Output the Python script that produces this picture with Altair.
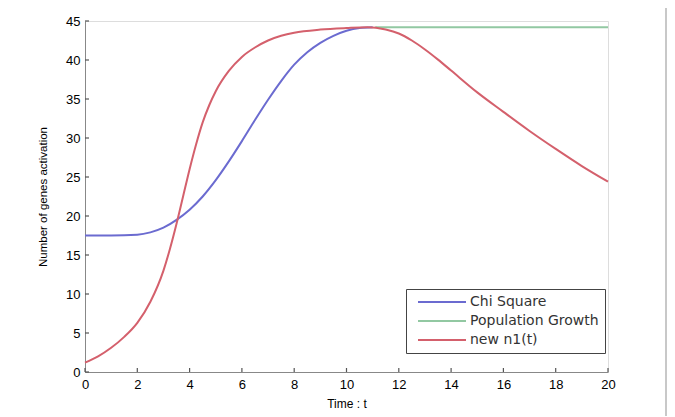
import altair as alt
import pandas as pd

series_names = ["Chi Square", "Population Growth", "new n1(t)"]
series_colors = ["#6b6bd0", "#92c8a2", "#d4606c"]

chi_t = [0, 1, 2, 2.5, 3, 3.5, 4, 4.5, 5, 5.5, 6, 6.5, 7, 7.5, 8, 8.5, 9, 9.5, 10, 10.5, 11]
chi_y = [17.5, 17.5, 17.6, 17.9, 18.5, 19.5, 20.8, 22.5, 24.6, 27.0, 29.6, 32.3, 34.9, 37.3, 39.4, 41.0,
         42.2, 43.1, 43.75, 44.1, 44.2]

pop_t = [11.1, 20]
pop_y = [44.2, 44.2]

n1_t = [0, 0.5, 1, 1.5, 2, 2.5, 3, 3.25, 3.5, 3.75, 4, 4.25, 4.5, 4.75, 5, 5.5, 6, 6.5, 7, 7.5, 8, 9, 10, 10.8,
        11.5, 12, 12.5, 13, 13.5, 14, 15, 16, 17, 18, 19, 20]
n1_y = [1.2, 2.0, 3.1, 4.5, 6.3, 9.0, 13.0, 15.8, 19.0, 22.5, 26.0, 29.2, 32.0, 34.2, 36.0, 38.6, 40.4, 41.6,
        42.5, 43.1, 43.5, 43.9, 44.1, 44.2, 43.9, 43.4, 42.5, 41.35, 40.05, 38.65, 35.85, 33.35, 30.9, 28.6,
        26.4, 24.4]

x_ticks = list(range(0, 21, 2))
y_ticks = list(range(0, 46, 5))

rows = []
for name, ts, ys in [(series_names[0], chi_t, chi_y), (series_names[1], pop_t, pop_y), (series_names[2], n1_t, n1_y)]:
    for i, (t, y) in enumerate(zip(ts, ys)):
        rows.append({"t": t, "y": y, "series": name, "order": i})
df = pd.DataFrame(rows)

W, H = 523, 351
FONT = "DejaVu Sans"
xscale = alt.Scale(domain=[0, 20], nice=False, zero=False)
yscale = alt.Scale(domain=[0, 45], nice=False)

x_axis = alt.Axis(values=x_ticks, ticks=False, labelPadding=6, titlePadding=7,
                  labelFontSize=13, titleFontSize=12, titleFontWeight="normal",
                  grid=False, labelFlush=False, labelOverlap=False)
y_axis = alt.Axis(values=y_ticks, ticks=False, labelPadding=5, titlePadding=17,
                  labelFontSize=13, titleFontSize=11.5, titleFontWeight="normal",
                  grid=False, labelFlush=False, labelOverlap=False)
x_title = "Time : t"
y_title = "Number of genes activation"

lines = alt.Chart(df).mark_line(strokeWidth=2, interpolate="monotone").encode(
    x=alt.X("t:Q", scale=xscale, title=x_title, axis=x_axis),
    y=alt.Y("y:Q", scale=yscale, title=y_title, axis=y_axis),
    color=alt.Color("series:N", scale=alt.Scale(domain=series_names, range=series_colors),
                    legend=alt.Legend(title=None, orient="none", legendX=321, legendY=268,
                                      fillColor="white", strokeColor="#444", padding=6,
                                      symbolType="M-4.8,0L4.8,0", symbolSize=100, symbolStrokeWidth=2,
                                      symbolOffset=23, labelOffset=21, rowPadding=5,
                                      labelFontSize=14, labelFont=FONT, labelColor="#333")),
    order="order:Q",
)

xt = alt.Chart(pd.DataFrame({"t": x_ticks})).mark_rule(color="#555", strokeWidth=1.2).encode(
    x=alt.X("t:Q", scale=xscale, title=x_title, axis=x_axis), y=alt.value(H), y2=alt.value(H - 4))
yt = alt.Chart(pd.DataFrame({"y": y_ticks})).mark_rule(color="#555", strokeWidth=1.2).encode(
    y=alt.Y("y:Q", scale=yscale, title=y_title, axis=y_axis), x=alt.value(0), x2=alt.value(4))

frame = alt.Chart(pd.DataFrame({"a": [0]})).mark_rule(color="#c8c8c8", strokeWidth=2, clip=False).encode(
    x=alt.value(581), y=alt.value(-16), y2=alt.value(400))

chart = alt.layer(lines, xt, yt, frame).properties(
    width=W, height=H,
    autosize=alt.AutoSizeParams(type="none"),
    padding={"left": 77, "top": 13, "right": 59, "bottom": 44},
).configure_view(stroke=None).configure_axis(
    domainColor="#555", domainWidth=1.5, labelColor="#333", titleColor="#333",
    labelFont=FONT, titleFont=FONT, titleFontWeight="normal",
).configure(background="white")

chart.save("out.html", embed_options={"renderer": "svg", "actions": False})
